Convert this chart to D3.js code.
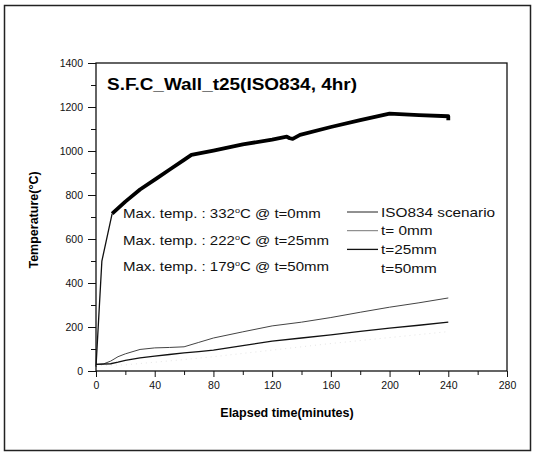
<!DOCTYPE html>
<html><head><meta charset="utf-8">
<script src="https://cdn.jsdelivr.net/npm/d3@7"></script>
<style>body{margin:0;background:#fff}svg{display:block}text{font-family:"Liberation Sans",Arial,sans-serif}</style>
</head><body>
<svg id="c" width="536" height="454"></svg>
<script>
// ---- data ----
const isoTime = [0,4,11,20,30,41.6,50,60,65,80,100,120,130,132,134,139,160,180,200,220,240,240];
const isoTemp = [20,500,715,770,825,877,915,960,982,1002,1030,1052,1065,1058,1055,1073,1109,1140,1170,1163,1158,1140];
const t0Time = [0,5,10,15,20,30,40,50,60,70,80,100,120,140,160,180,200,220,240];
const t0Temp = [30,32,45,65,78,98,105,107,110,130,150,178,205,222,243,267,290,310,332];
const t25Time = [0,10,15,20,30,40,50,60,70,80,100,120,140,160,180,200,220,240];
const t25Temp = [30,33,40,48,60,68,75,82,88,95,115,136,150,164,180,195,208,222];
const t50Time = [0,20,40,60,80,100,120,160,200,240];
const t50Temp = [25,28,40,52,65,80,95,125,152,179];
const xTicks = [0,40,80,120,160,200,240,280];
const yTicks = [0,200,400,600,800,1000,1200,1400];
const legendLabels = ["ISO834 scenario","t= 0mm","t=25mm","t=50mm"];
const notes = [["332","t=0mm"],["222","t=25mm"],["179","t=50mm"]];
const title = "S.F.C_Wall_t25(ISO834, 4hr)";

const svg = d3.select("#c");
const L=96,R=507,T=63,B=371;
const x = d3.scaleLinear().domain([0,280]).range([L,R]);
const y = d3.scaleLinear().domain([0,1400]).range([B,T]);

// outer frame
svg.append("rect").attr("x",4.5).attr("y",5.5).attr("width",526).attr("height",445)
  .attr("fill","none").attr("stroke","#222").attr("stroke-width",1.5);

// plot frame
svg.append("rect").attr("x",L).attr("y",T).attr("width",R-L).attr("height",B-T)
  .attr("fill","none").attr("stroke","#111").attr("stroke-width",1.3);

// axes
const xa = svg.append("g").attr("transform",`translate(0,${B})`)
  .call(d3.axisBottom(x).tickValues(d3.range(0,281,20)).tickSize(6).tickFormat(d=>xTicks.includes(d)?d:""));
xa.selectAll(".tick line").attr("y2",d=>xTicks.includes(d)?6:4);
const ya = svg.append("g").attr("transform",`translate(${L},0)`)
  .call(d3.axisLeft(y).tickValues(d3.range(0,1401,100)).tickSize(8).tickFormat(d=>yTicks.includes(d)?d:""));
ya.selectAll(".tick line").attr("x2",d=>yTicks.includes(d)?-8:-5);
[xa,ya].forEach(g=>{
  g.select(".domain").remove();
  g.selectAll(".tick line").attr("stroke","#111");
  g.selectAll("text").attr("font-size",10.5).attr("fill","#111").attr("font-family","Liberation Sans, Arial, sans-serif");
});
xa.selectAll("text").attr("dy","0.9em").attr("y",9);
ya.selectAll("text").attr("x",-13);

// axis titles
svg.append("text").attr("x",287).attr("y",417).attr("text-anchor","middle")
  .attr("font-size",12.5).attr("font-weight","bold").text("Elapsed time(minutes)");
svg.append("text").attr("transform","translate(38,220) rotate(-90)").attr("text-anchor","middle")
  .attr("font-size",12.5).attr("font-weight","bold").text("Temperature(\u00B0C)");

// title
svg.append("text").attr("x",107).attr("y",90).attr("font-size",16.7).attr("font-weight","bold")
  .attr("textLength",250).attr("lengthAdjust","spacingAndGlyphs").text(title);

// lines
const line = d3.line().x(d=>x(d[0])).y(d=>y(d[1]));
const zip=(a,b)=>a.map((v,i)=>[v,b[i]]);
svg.append("path").datum(zip(t50Time,t50Temp)).attr("d",line).attr("fill","none")
  .attr("stroke","#e6e6e6").attr("stroke-width",1).attr("stroke-dasharray","1,4");
svg.append("path").datum(zip(t0Time,t0Temp)).attr("d",line).attr("fill","none")
  .attr("stroke","#444").attr("stroke-width",1);
svg.append("path").datum(zip(t25Time,t25Temp)).attr("d",line).attr("fill","none")
  .attr("stroke","#111").attr("stroke-width",1.3);
const iso = zip(isoTime,isoTemp);
svg.append("path").datum(iso.slice(0,3)).attr("d",line).attr("fill","none")
  .attr("stroke","#111").attr("stroke-width",1.3);
svg.append("path").datum(iso.slice(2)).attr("d",line).attr("fill","none")
  .attr("stroke","#000").attr("stroke-width",3.8).attr("stroke-linejoin","round");

// notes
notes.forEach((n,i)=>{
  const t = svg.append("text").attr("transform",`translate(123,${218+i*26.5}) scale(1.13,1)`)
    .attr("font-size",13.3).attr("fill","#111");
  t.append("tspan").text("Max. temp. : "+n[0]);
  t.append("tspan").attr("dy",-5).attr("font-size",8).text("o");
  t.append("tspan").attr("dy",5).text("C @ "+n[1]);
});

// legend
const lstyles=[{c:"#222",w:1},{c:"#777",w:1},{c:"#111",w:1.3},{c:"none",w:0}];
legendLabels.forEach((s,i)=>{
  const yy=212+i*18.7;
  if(lstyles[i].c!=="none")
    svg.append("line").attr("x1",347).attr("x2",378).attr("y1",yy).attr("y2",yy)
      .attr("stroke",lstyles[i].c).attr("stroke-width",lstyles[i].w);
  svg.append("text").attr("transform",`translate(381,${yy+4.7}) scale(1.18,1)`)
    .attr("font-size",13).attr("fill","#111").text(s);
});
</script>
</body></html>
